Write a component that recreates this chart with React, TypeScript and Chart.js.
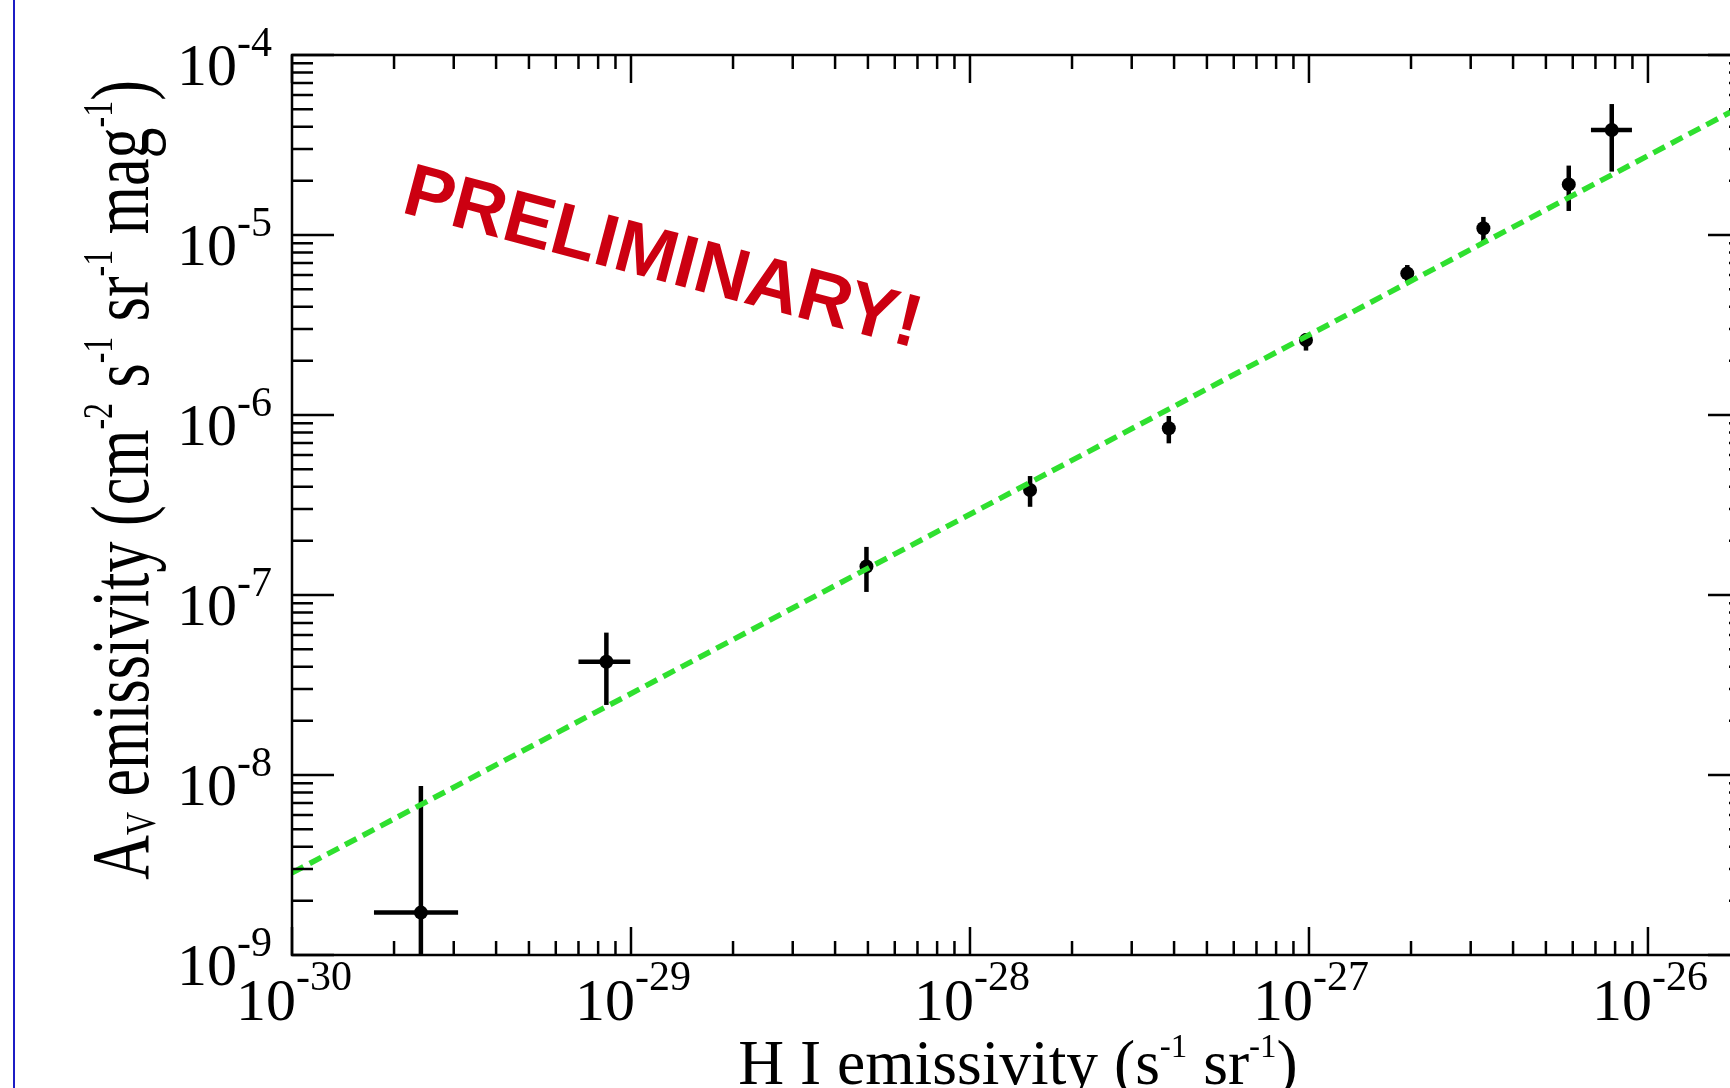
import { useEffect, useRef } from 'react';
import { Chart, registerables } from 'chart.js';

Chart.register(...registerables);

// ---- data ----
const hiEmissivity = [2.40e-30, 8.46e-30, 4.95e-29, 1.504e-28, 3.86e-28, 9.80e-28, 1.95e-27, 3.27e-27, 5.84e-27, 7.82e-27];
const avEmissivity = [1.72e-9, 4.26e-8, 1.44e-7, 3.83e-7, 8.44e-7, 2.61e-6, 6.12e-6, 1.09e-5, 1.91e-5, 3.83e-5];
const avErrHigh = [8.69e-9, 6.18e-8, 1.85e-7, 4.58e-7, 9.87e-7, 2.84e-6, 6.81e-6, 1.26e-5, 2.43e-5, 5.34e-5];
const avErrLow = [5e-10, 2.45e-8, 1.04e-7, 3.09e-7, 6.96e-7, 2.28e-6, 5.51e-6, 9.18e-6, 1.36e-5, 2.25e-5];
const hiErrLow: (number | null)[] = [1.745e-30, 7.0e-30, null, null, null, null, null, null, null, 6.79e-27];
const hiErrHigh: (number | null)[] = [3.09e-30, 9.95e-30, null, null, null, null, null, null, null, 8.97e-27];
const fitX = [1e-30, 2e-26];
const fitY = [2.86e-9, 5.5e-5];
const xTickPowers = [-30, -29, -28, -27, -26];
const yTickPowers = [-9, -8, -7, -6, -5, -4];
const xRange = [1e-30, 2e-26];
const yRange = [1e-9, 1e-4];
const xTitle = [{ t: 'H I emissivity (s' }, { t: '-1', k: 'sup' }, { t: ' sr' }, { t: '-1', k: 'sup' }, { t: ')' }];
const yTitle = [
  { t: 'A' }, { t: 'V', k: 'sub' }, { t: ' emissivity (cm' }, { t: '-2', k: 'sup' }, { t: ' s' },
  { t: '-1', k: 'sup' }, { t: ' sr' }, { t: '-1', k: 'sup' }, { t: ' mag' }, { t: '-1', k: 'sup' }, { t: ')' },
];
const watermark = 'PRELIMINARY!';

const GREEN = '#2fe02f';
const SERIF = '"Liberation Serif", "Times New Roman", serif';

type Seg = { t: string; k?: string };

function richWidth(ctx: CanvasRenderingContext2D, segs: Seg[], base: number, small: number) {
  let w = 0;
  for (const s of segs) {
    ctx.font = `${s.k ? small : base}px ${SERIF}`;
    w += ctx.measureText(s.t).width;
  }
  return w;
}

function drawRich(
  ctx: CanvasRenderingContext2D, segs: Seg[], x: number, y: number,
  base: number, small: number, raise: number, drop: number,
) {
  let cx = x;
  ctx.textBaseline = 'alphabetic';
  ctx.textAlign = 'left';
  for (const s of segs) {
    ctx.font = `${s.k ? small : base}px ${SERIF}`;
    const dy = s.k === 'sup' ? -raise : s.k === 'sub' ? drop : 0;
    ctx.fillText(s.t, cx, y + dy);
    cx += ctx.measureText(s.t).width;
  }
}

const gracePlugin = {
  id: 'grace',
  beforeDatasetsDraw(chart: any) {
    const { ctx, chartArea: a, scales } = chart;
    const xs = scales.x, ys = scales.y;
    ctx.save();
    ctx.beginPath();
    ctx.rect(a.left, a.top, a.right - a.left, a.bottom - a.top);
    ctx.clip();
    ctx.strokeStyle = '#000';
    ctx.lineWidth = 4.5;
    ctx.lineCap = 'butt';
    for (let i = 0; i < hiEmissivity.length; i++) {
      const px = xs.getPixelForValue(hiEmissivity[i]);
      const py = ys.getPixelForValue(avEmissivity[i]);
      ctx.beginPath();
      ctx.moveTo(px, ys.getPixelForValue(avErrHigh[i]));
      ctx.lineTo(px, ys.getPixelForValue(avErrLow[i]));
      ctx.stroke();
      const lo = hiErrLow[i], hi = hiErrHigh[i];
      if (lo != null && hi != null) {
        ctx.beginPath();
        ctx.moveTo(xs.getPixelForValue(lo), py);
        ctx.lineTo(xs.getPixelForValue(hi), py);
        ctx.stroke();
      }
    }
    ctx.restore();
  },
  afterDraw(chart: any) {
    const { ctx, chartArea: a, scales } = chart;
    const xs = scales.x, ys = scales.y;
    ctx.save();
    ctx.strokeStyle = '#000';
    ctx.fillStyle = '#000';
    ctx.lineWidth = 2.5;
    ctx.strokeRect(a.left, a.top, a.right - a.left, a.bottom - a.top);

    // x ticks (inward, bottom and top)
    ctx.beginPath();
    for (let p = xTickPowers[0]; p <= xTickPowers[xTickPowers.length - 1]; p++) {
      for (let m = 1; m <= 9; m++) {
        const v = m * Math.pow(10, p);
        if (v < xRange[0] * 0.999 || v > xRange[1] * 1.001) continue;
        const px = xs.getPixelForValue(v);
        const len = m === 1 ? 28 : 14;
        ctx.moveTo(px, a.bottom);
        ctx.lineTo(px, a.bottom - len);
        ctx.moveTo(px, a.top);
        ctx.lineTo(px, a.top + len);
      }
    }
    // y ticks (inward, left and right)
    for (let p = yTickPowers[0]; p <= yTickPowers[yTickPowers.length - 1]; p++) {
      for (let m = 1; m <= 9; m++) {
        const v = m * Math.pow(10, p);
        if (v < yRange[0] * 0.999 || v > yRange[1] * 1.001) continue;
        const py = ys.getPixelForValue(v);
        const len = m === 1 ? 42 : 21;
        ctx.moveTo(a.left, py);
        ctx.lineTo(a.left + len, py);
        ctx.moveTo(a.right, py);
        ctx.lineTo(a.right - len, py);
      }
    }
    ctx.stroke();

    // tick labels
    const base = 60, small = 42;
    for (const p of xTickPowers) {
      const segs = [{ t: '10' }, { t: String(p), k: 'sup' }];
      const w = richWidth(ctx, segs, base, small);
      const px = xs.getPixelForValue(Math.pow(10, p));
      drawRich(ctx, segs, px - w / 2 + 2, a.bottom + 65, base, small, 30, 0);
    }
    for (const p of yTickPowers) {
      const segs = [{ t: '10' }, { t: String(p), k: 'sup' }];
      const w = richWidth(ctx, segs, base, small);
      const py = ys.getPixelForValue(Math.pow(10, p));
      drawRich(ctx, segs, a.left - 20 - w, py + 30, base, small, 29, 0);
    }

    // x title
    const tb = 63.5, ts = 33;
    const xw = richWidth(ctx, xTitle, tb, ts);
    drawRich(ctx, xTitle, 1018 - xw / 2, 1084, tb, ts, 27, 6);

    // y title (rotated, stretched across)
    const yb = 62, ysm = 32;
    const yw = richWidth(ctx, yTitle, yb, ysm);
    ctx.save();
    ctx.translate(148, 480);
    ctx.rotate(-Math.PI / 2);
    ctx.scale(1, 1.33);
    drawRich(ctx, yTitle, -yw / 2, 0, yb, ysm, 27, 5);
    ctx.restore();

    // watermark
    ctx.save();
    ctx.translate(400, 212);
    ctx.rotate((14.8 * Math.PI) / 180);
    ctx.font = 'bold 74px "Liberation Sans", Arial, sans-serif';
    ctx.fillStyle = '#cc0011';
    ctx.textAlign = 'left';
    ctx.textBaseline = 'alphabetic';
    ctx.fillText(watermark, 0, 0);
    ctx.restore();

    ctx.restore();
  },
};

export default function App() {
  const ref = useRef<HTMLCanvasElement>(null);
  useEffect(() => {
    const canvas = ref.current!;
    const chart = new Chart(canvas, {
      type: 'scatter',
      data: {
        datasets: [
          {
            type: 'line',
            label: 'fit',
            data: fitX.map((x, i) => ({ x, y: fitY[i] })),
            borderColor: GREEN,
            borderWidth: 5.5,
            borderDash: [13, 7],
            borderCapStyle: 'butt',
            pointRadius: 0,
            fill: false,
            tension: 0,
            order: 0,
          } as any,
          {
            type: 'scatter',
            label: 'data',
            data: hiEmissivity.map((x, i) => ({ x, y: avEmissivity[i] })),
            backgroundColor: '#000',
            borderColor: '#000',
            borderWidth: 0,
            pointRadius: 7,
            order: 1,
          } as any,
        ],
      },
      options: {
        responsive: false,
        animation: false,
        devicePixelRatio: 1,
        layout: { padding: { left: 292, top: 55, right: 20, bottom: 165 } },
        scales: {
          x: { type: 'logarithmic', min: xRange[0], max: xRange[1], display: false },
          y: { type: 'logarithmic', min: yRange[0], max: yRange[1], display: false },
        },
        plugins: { legend: { display: false }, tooltip: { enabled: false } },
      } as any,
      plugins: [gracePlugin],
    });
    return () => chart.destroy();
  }, []);

  return (
    <div style={{ position: 'absolute', left: 0, top: 0, width: 1730, height: 1088, overflow: 'hidden', background: '#fff' }}>
      <div style={{ position: 'absolute', left: 13, top: 0, width: 2, height: 1088, background: '#1c1cc4' }} />
      <canvas ref={ref} width={1770} height={1120} style={{ position: 'absolute', left: 0, top: 0, width: 1770, height: 1120 }} />
    </div>
  );
}
